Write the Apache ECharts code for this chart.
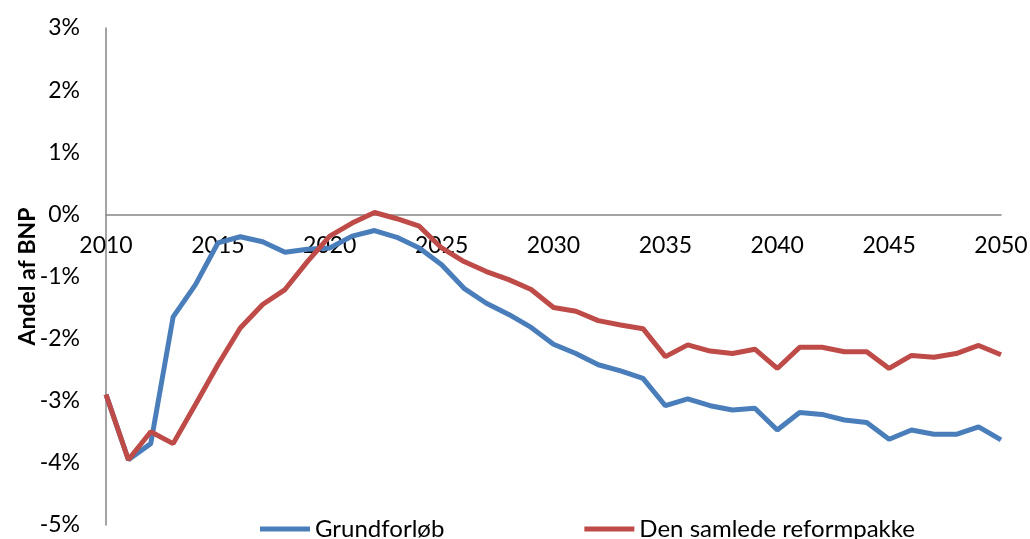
<!DOCTYPE html>
<html>
<head>
<meta charset="utf-8">
<script src="https://cdn.jsdelivr.net/npm/echarts@6/dist/echarts.min.js"></script>
<style>
  html, body { margin: 0; padding: 0; background: #fff; }
  #chart { width: 1030px; height: 539px; }
</style>
</head>
<body>
<div id="chart"></div>
<script>
var years = ['2010', '2011', '2012', '2013', '2014', '2015', '2016', '2017', '2018', '2019',
    '2020', '2021', '2022', '2023', '2024', '2025', '2026', '2027', '2028', '2029',
    '2030', '2031', '2032', '2033', '2034', '2035', '2036', '2037', '2038', '2039',
    '2040', '2041', '2042', '2043', '2044', '2045', '2046', '2047', '2048', '2049', '2050'];

var grundforloeb = [-2.90, -3.95, -3.69, -1.65, -1.13, -0.46, -0.36, -0.44, -0.61, -0.56,
    -0.54, -0.35, -0.26, -0.37, -0.54, -0.81, -1.19, -1.43, -1.61, -1.82,
    -2.09, -2.24, -2.42, -2.52, -2.64, -3.08, -2.97, -3.08, -3.15, -3.12,
    -3.47, -3.19, -3.22, -3.31, -3.35, -3.62, -3.47, -3.54, -3.54, -3.42, -3.63];

var reformpakke = [-2.90, -3.95, -3.50, -3.69, -3.06, -2.42, -1.83, -1.45, -1.21, -0.76,
    -0.35, -0.14, 0.03, -0.07, -0.19, -0.54, -0.76, -0.92, -1.05, -1.21,
    -1.50, -1.56, -1.71, -1.78, -1.84, -2.29, -2.10, -2.20, -2.24, -2.17,
    -2.48, -2.14, -2.14, -2.21, -2.21, -2.48, -2.27, -2.30, -2.24, -2.11, -2.26];

var yTicks = { min: -5, max: 3, step: 1 };

var gridTop = 28, gridBottom = 14, chartH = 539;
// x axis sits on the 0% line, so shift it up from the bottom of the grid
var plotH = chartH - gridTop - gridBottom;
var zeroShift = plotH * (0 - yTicks.min) / (yTicks.max - yTicks.min);

var chart = echarts.init(document.getElementById('chart'));

chart.setOption({
    animation: false,
    textStyle: { fontFamily: 'Lato' },
    color: ['#4a7ebb', '#be4b48'],
    grid: {
        left: 106,
        right: 29,
        top: gridTop,
        bottom: gridBottom,
        outerBoundsMode: 'none'
    },
    legend: {
        left: 255,
        top: 512,
        icon: 'rect',
        itemWidth: 50,
        itemHeight: 5,
        itemGap: 140,
        itemTextGap: 8,
        textStyle: { fontSize: 24, color: '#000', fontFamily: 'Lato' },
        data: ['Grundforløb', 'Den samlede reformpakke']
    },
    xAxis: {
        type: 'category',
        boundaryGap: false,
        data: years,
        position: 'bottom',
        offset: -zeroShift,
        axisLine: { onZero: false, lineStyle: { color: '#868686', width: 1.5 } },
        axisTick: { show: false },
        axisLabel: {
            interval: 4,
            margin: 20,
            fontSize: 23,
            color: '#000',
            fontFamily: 'Lato',
            showMaxLabel: true,
            showMinLabel: true
        },
        splitLine: { show: false }
    },
    yAxis: {
        type: 'value',
        min: yTicks.min,
        max: yTicks.max,
        interval: yTicks.step,
        name: 'Andel af BNP',
        nameLocation: 'middle',
        nameGap: 67,
        nameMoveOverlap: false,
        nameTextStyle: { fontSize: 23, fontWeight: 'bold', color: '#000', fontFamily: 'Lato' },
        axisLine: { show: true, lineStyle: { color: '#868686', width: 1.5 } },
        axisTick: { show: false },
        axisLabel: {
            formatter: '{value}%',
            margin: 26,
            fontSize: 23,
            color: '#000',
            fontFamily: 'Lato'
        },
        splitLine: { show: false }
    },
    series: [
        {
            name: 'Grundforløb',
            type: 'line',
            data: grundforloeb,
            showSymbol: false,
            symbol: 'none',
            lineStyle: { width: 5, color: '#4a7ebb' }
        },
        {
            name: 'Den samlede reformpakke',
            type: 'line',
            data: reformpakke,
            showSymbol: false,
            symbol: 'none',
            lineStyle: { width: 5, color: '#be4b48' }
        }
    ]
});
</script>
</body>
</html>
